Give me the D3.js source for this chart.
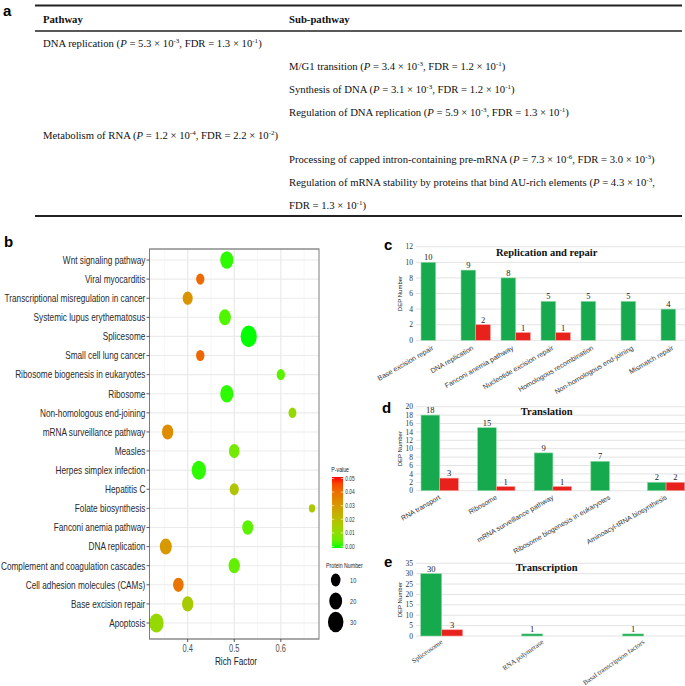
<!DOCTYPE html>
<html><head><meta charset="utf-8">
<script src="https://cdn.jsdelivr.net/npm/d3@7"></script>
<style>body{margin:0;background:#fff}svg{display:block}</style>
</head><body>
<svg id="fig" width="685" height="686"></svg>
<script>
// ---------------- DATA ----------------
// Panel a table
const tableNames = ["DNA replication","M/G1 transition","Synthesis of DNA","Regulation of DNA replication","Metabolism of RNA","Processing of capped intron-containing pre-mRNA","Regulation of mRNA stability by proteins that bind AU-rich elements"];
const tableLevel = [0,1,1,1,0,1,1];
const tableP = [["5.3","-3"],["3.4","-3"],["3.1","-3"],["5.9","-3"],["1.2","-4"],["7.3","-6"],["4.3","-3"]];
const tableFDR = [["1.3","-1"],["1.2","-1"],["1.2","-1"],["1.3","-1"],["2.2","-2"],["3.0","-3"],["1.3","-1"]];
const tableWrap = [false,false,false,false,false,false,true];

// Panel b bubble chart
const bubbleCategories = ["Wnt signaling pathway","Viral myocarditis","Transcriptional misregulation in cancer","Systemic lupus erythematosus","Splicesome","Small cell lung cancer","Ribosome biogenesis in eukaryotes","Ribosome","Non-homologous end-joining","mRNA surveillance pathway","Measles","Herpes simplex infection","Hepatitis C","Folate biosynthesis","Fanconi anemia pathway","DNA replication","Complement and coagulation cascades","Cell adhesion molecules (CAMs)","Base excision repair","Apoptosis"];
const richFactor = [0.484,0.427,0.400,0.480,0.531,0.427,0.600,0.484,0.625,0.357,0.500,0.424,0.500,0.667,0.529,0.353,0.500,0.380,0.400,0.333];
const pValue = [0.001,0.040,0.031,0.003,0.000,0.041,0.004,0.001,0.012,0.033,0.007,0.001,0.018,0.017,0.004,0.030,0.005,0.038,0.016,0.012];
const proteinNumber = [21,7,11,17,33,7,7,21,6,15,13,25,9,3,14,17,15,13,15,25];
const richTicks = [0.4,0.5,0.6];
const pTicks = [0,0.01,0.02,0.03,0.04,0.05];
const sizeLegend = [10,20,30];

// Panel c
const repCats = ["Base excision repair","DNA replication","Fanconi anemia pathway","Nucleotide excision repair","Homologous recombination","Non-homologous end-joining","Mismatch repair"];
const repGreen = [10,9,8,5,5,5,4];
const repRed = [0,2,1,1,0,0,0];
// Panel d
const traCats = ["RNA transport","Ribosome","mRNA surveillance pathway","Ribosome biogenesis in eukaryotes","Aminoacyl-tRNA biosynthesis"];
const traGreen = [18,15,9,7,2];
const traRed = [3,1,1,0,2];
// Panel e
const tscCats = ["Spliceosome","RNA polymerase","Basal transcription factors"];
const tscGreen = [30,1,1];
const tscRed = [3,0,0];

// ---------------- DRAW ----------------
const svg = d3.select("#fig");
const SANS = "'Liberation Sans', Arial, sans-serif";
const SERIF = "'Liberation Serif', 'Times New Roman', serif";

function letter(x, y, t) {
  svg.append("text").attr("x", x).attr("y", y).text(t)
    .style("font-family", SANS).style("font-weight", "bold").style("font-size", "15px");
}

// ---- Panel a ----
letter(3, 16, "a");
const ta = svg.append("g").style("font-family", SERIF).style("font-size", "10.7px").attr("fill", "#111");
ta.append("line").attr("x1", 35).attr("x2", 682).attr("y1", 5.5).attr("y2", 5.5).attr("stroke", "#222").attr("stroke-width", 1.8);
ta.append("line").attr("x1", 35).attr("x2", 682).attr("y1", 31).attr("y2", 31).attr("stroke", "#222").attr("stroke-width", 1.3);
ta.append("line").attr("x1", 35).attr("x2", 682).attr("y1", 216).attr("y2", 216).attr("stroke", "#222").attr("stroke-width", 1.8);
ta.append("text").attr("x", 43).attr("y", 22.5).style("font-weight", "bold").text("Pathway");
ta.append("text").attr("x", 289).attr("y", 22.5).style("font-weight", "bold").text("Sub-pathway");

const colX = [43, 289];
const rowY0 = 47, rowStep = 23.1;
function writeParts(x, y, parts) {
  const t = ta.append("text").attr("x", x).attr("y", y);
  let shifted = false;
  parts.forEach(p => {
    const s = t.append("tspan").text(p.t);
    if (p.i) s.style("font-style", "italic");
    if (p.sup) { s.attr("dy", -4).style("font-size", "7px"); shifted = true; }
    else if (shifted) { s.attr("dy", 4); shifted = false; }
  });
}
tableNames.forEach((name, i) => {
  const x = colX[tableLevel[i]];
  const y = rowY0 + i * rowStep;
  const first = [{t: name + " ("}, {t: "P", i: true}, {t: " = " + tableP[i][0] + " \u00d7 10"}, {t: tableP[i][1], sup: true}];
  const second = [{t: "FDR = " + tableFDR[i][0] + " \u00d7 10"}, {t: tableFDR[i][1], sup: true}, {t: ")"}];
  if (tableWrap[i]) {
    writeParts(x, y, first.concat([{t: ","}]));
    writeParts(x, y + rowStep, second);
  } else {
    writeParts(x, y, first.concat([{t: ", "}]).concat(second));
  }
});

// ---- Panel b ----
letter(4, 247, "b");
const SX = 0.75;
const gb = svg.append("g").attr("transform", `scale(${SX},1)`);
const bx = d3.scaleLinear().domain([0.318, 0.682]).range([149.5 / SX, 319 / SX]);
const by = d3.scalePoint().domain(bubbleCategories).range([260, 623]);
const bTop = 249, bBot = 639;
const br = d3.scaleRadial().domain([0, 33]).range([2.8, 10.8]);
const bc = d3.scaleLinear().domain([0, 0.05]).range(["#00ff00", "#ff0000"]).interpolate(d3.interpolateLab);

// grid
[0.35,0.45,0.55,0.65].forEach(v => gb.append("line").attr("x1", bx(v)).attr("x2", bx(v)).attr("y1", bTop).attr("y2", bBot).attr("stroke", "#f3f3f3").attr("stroke-width", 0.8));
richTicks.forEach(v => gb.append("line").attr("x1", bx(v)).attr("x2", bx(v)).attr("y1", bTop).attr("y2", bBot).attr("stroke", "#e8e8e8").attr("stroke-width", 1.5));
bubbleCategories.forEach(c => gb.append("line").attr("x1", bx.range()[0]).attr("x2", bx.range()[1]).attr("y1", by(c)).attr("y2", by(c)).attr("stroke", "#ebebeb").attr("stroke-width", 1.1));

// bubbles
gb.selectAll("circle.bub").data(bubbleCategories).join("circle").attr("class", "bub")
  .attr("cx", (d, i) => bx(richFactor[i])).attr("cy", d => by(d))
  .attr("r", (d, i) => br(proteinNumber[i])).attr("fill", (d, i) => bc(pValue[i]));

// frame
gb.append("rect").attr("x", bx.range()[0]).attr("y", bTop).attr("width", bx.range()[1] - bx.range()[0]).attr("height", bBot - bTop)
  .attr("fill", "none").attr("stroke", "#7a7a7a").attr("stroke-width", 1.3);

// y axis labels + ticks
bubbleCategories.forEach(c => {
  gb.append("line").attr("x1", bx.range()[0] - 4).attr("x2", bx.range()[0]).attr("y1", by(c)).attr("y2", by(c)).attr("stroke", "#444").attr("stroke-width", 1);
  gb.append("text").attr("x", bx.range()[0] - 5.5).attr("y", by(c)).attr("dy", "0.35em").attr("text-anchor", "end")
    .style("font-family", SANS).style("font-size", "11px").attr("fill", "#2a2a2a").text(c);
});
richTicks.forEach(v => {
  gb.append("line").attr("x1", bx(v)).attr("x2", bx(v)).attr("y1", bBot).attr("y2", bBot + 3).attr("stroke", "#444");
  gb.append("text").attr("x", bx(v)).attr("y", bBot + 13).attr("text-anchor", "middle")
    .style("font-family", SANS).style("font-size", "10px").attr("fill", "#4d4d4d").text(d3.format(".1f")(v));
});
gb.append("text").attr("x", 236 / SX).attr("y", 665).attr("text-anchor", "middle")
  .style("font-family", SANS).style("font-size", "11px").attr("fill", "#222").text("Rich Factor");

// colour legend
const legX = 442.7, legW = 14.7, legTop = 477, legBot = 548;
const defs = svg.append("defs");
const grad = defs.append("linearGradient").attr("id", "pgrad").attr("x1", 0).attr("x2", 0).attr("y1", 1).attr("y2", 0);
d3.range(0, 1.0001, 0.1).forEach(t => grad.append("stop").attr("offset", t).attr("stop-color", bc(t * 0.05)));
gb.append("text").attr("x", legX - 1).attr("y", legTop - 5).style("font-family", SANS).style("font-size", "7px").attr("fill", "#222").text("P-value");
gb.append("rect").attr("x", legX).attr("y", legTop).attr("width", legW).attr("height", legBot - legTop).attr("fill", "url(#pgrad)");
const ly = d3.scaleLinear().domain([0, 0.05]).range([legBot - 1.5, legTop + 1.5]);
pTicks.forEach(v => {
  gb.append("line").attr("x1", legX).attr("x2", legX + 3).attr("y1", ly(v)).attr("y2", ly(v)).attr("stroke", "#fff").attr("stroke-width", 0.7);
  gb.append("line").attr("x1", legX + legW - 3).attr("x2", legX + legW).attr("y1", ly(v)).attr("y2", ly(v)).attr("stroke", "#fff").attr("stroke-width", 0.7);
  gb.append("text").attr("x", legX + legW + 3).attr("y", ly(v)).attr("dy", "0.35em")
    .style("font-family", SANS).style("font-size", "6.5px").attr("fill", "#333").text(d3.format(".2f")(v));
});
// size legend
gb.append("text").attr("x", 434.7).attr("y", 568).style("font-family", SANS).style("font-size", "7px").attr("fill", "#222").text("Protein Number");
const sly = d3.scalePoint().domain(sizeLegend).range([580, 622]);
sizeLegend.forEach(v => {
  gb.append("circle").attr("cx", 447.6).attr("cy", sly(v)).attr("r", br(v)).attr("fill", "#000");
  gb.append("text").attr("x", 466.7).attr("y", sly(v)).attr("dy", "0.35em").style("font-family", SANS).style("font-size", "7.5px").attr("fill", "#333").text(v);
});

// ---- Bar panels c, d, e ----
function barPanel(cfg) {
  const g = svg.append("g");
  const y = d3.scaleLinear().domain([0, cfg.max]).range([cfg.y0, cfg.y1]);
  const x = d3.scaleBand().domain(cfg.cats).range(cfg.xr).paddingInner(cfg.pi).paddingOuter(cfg.pi / 2);
  const xs = d3.scaleBand().domain(["g", "r"]).range([0, x.bandwidth()]);
  const ticks = d3.range(0, cfg.max + 0.001, cfg.step);
  ticks.forEach(t => {
    g.append("line").attr("x1", 416).attr("x2", 685).attr("y1", y(t)).attr("y2", y(t)).attr("stroke", "#dcdcdc").attr("stroke-width", 0.8);
    g.append("text").attr("x", 413).attr("y", y(t)).attr("dy", "0.35em").attr("text-anchor", "end")
      .style("font-family", SERIF).style("font-size", "7.5px").attr("fill", "#333").text(t);
  });
  g.append("text").attr("transform", `translate(402,${(cfg.y0 + cfg.y1) / 2}) rotate(-90)`).attr("text-anchor", "middle")
    .style("font-family", SANS).style("font-size", "6px").attr("fill", "#222").text("DEP Number");
  const series = [["g", cfg.green, "#17a94e", "#8fdcaa"], ["r", cfg.red, "#e8211c", "#f7a3a0"]];
  series.forEach(([k, vals, fill, stroke]) => {
    cfg.cats.forEach((c, i) => {
      const v = vals[i];
      if (!v) return;
      g.append("rect").attr("x", x(c) + xs(k)).attr("y", y(v)).attr("width", xs.bandwidth()).attr("height", y(0) - y(v))
        .attr("fill", fill).attr("stroke", stroke).attr("stroke-width", 0.6);
      g.append("text").attr("x", x(c) + xs(k) + xs.bandwidth() / 2).attr("y", y(v) - 2).attr("text-anchor", "middle")
        .style("font-family", SERIF).style("font-size", "8.5px").attr("fill", "#222").text(v);
    });
  });
  g.append("text").attr("x", 546.7).attr("y", cfg.titleY).attr("text-anchor", "middle")
    .style("font-family", SERIF).style("font-weight", "bold").style("font-size", "10.5px").attr("fill", "#111").text(cfg.title);
  cfg.cats.forEach(c => {
    const cx = x(c) + x.bandwidth() / 2 + cfg.lx;
    g.append("text").attr("transform", `translate(${cx},${cfg.y0 + cfg.ly}) rotate(${-cfg.rot})`)
      .attr("text-anchor", "end").attr("dy", "0.35em")
      .style("font-family", cfg.lserif ? SERIF : SANS).style("font-size", cfg.lfs + "px").attr("fill", "#333").text(c);
  });
  letter(cfg.letterX, cfg.letterY, cfg.letter);
}

barPanel({cats: repCats, green: repGreen, red: repRed, max: 12, step: 2, y0: 340.3, y1: 246.7,
  xr: [415.7, 695.7], pi: 0.265, title: "Replication and repair", titleY: 255.5,
  lx: -3, ly: 7, rot: 30, lfs: 7, lserif: false, letter: "c", letterX: 384, letterY: 250});
barPanel({cats: traCats, green: traGreen, red: traRed, max: 20, step: 2, y0: 490.7, y1: 406.7,
  xr: [411.4, 694.4], pi: 0.34, title: "Translation", titleY: 414.5,
  lx: 0, ly: 6, rot: 30, lfs: 7, lserif: false, letter: "d", letterX: 382, letterY: 413});
barPanel({cats: tscCats, green: tscGreen, red: tscRed, max: 35, step: 5, y0: 636, y1: 563.3,
  xr: [391.2, 694.2], pi: 0.584, title: "Transcription", titleY: 570.5,
  lx: 0, ly: 5, rot: 35, lfs: 7, lserif: true, letter: "e", letterX: 384, letterY: 567});
</script>
</body></html>
